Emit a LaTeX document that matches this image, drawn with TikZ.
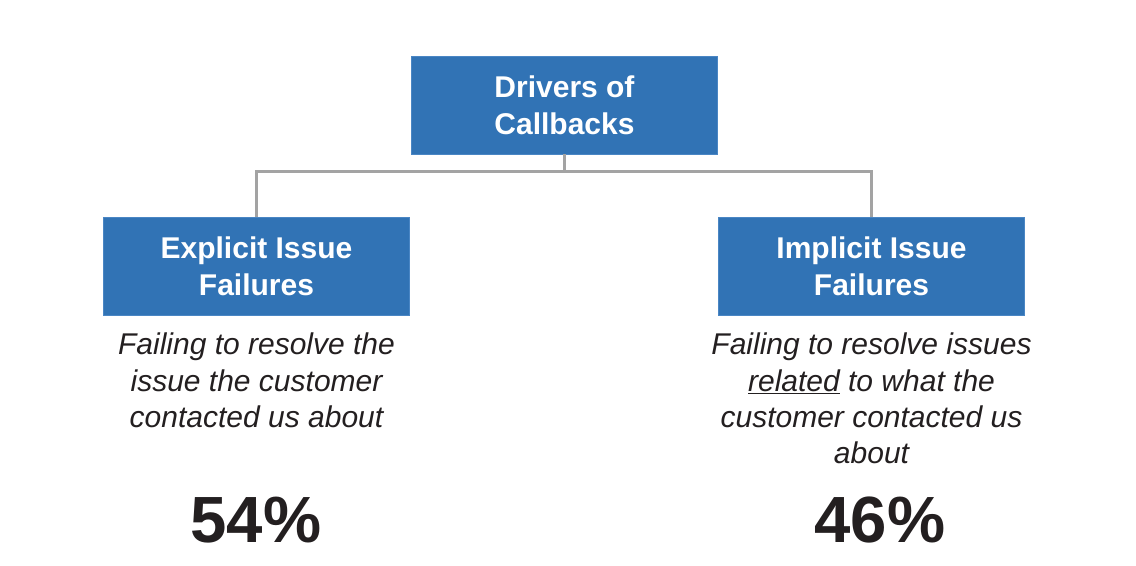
\documentclass[tikz,border=0pt]{standalone}
\usepackage{fontspec}
\setmainfont{Liberation Sans}
\usepackage{xcolor}
\usetikzlibrary{positioning}
\definecolor{boxblue}{HTML}{3173B5}
\definecolor{boxedge}{HTML}{4A86C4}
\definecolor{linkgray}{HTML}{A3A3A3}
\definecolor{inkdark}{HTML}{231F20}
\tikzset{
	x=0.75pt, y=-0.75pt,
	driverbox/.style = {
			rectangle,
			fill            = boxblue,
			draw            = boxedge,
			line width      = 0.6pt,
			minimum width   = 230pt,
			minimum height  = 73.5pt,
			inner sep       = 0pt,
			align           = center,
			text            = white,
			font            = \fontsize{22.5}{27.5}\selectfont\bfseries,
		},
	desc/.style = {
			inner sep = 0pt,
			align     = center,
			text      = inkdark,
			font      = \fontsize{22.5}{27.3}\selectfont\itshape,
		},
	pct/.style = {
			inner sep = 0pt,
			anchor    = base,
			text      = inkdark,
			font      = \fontsize{49}{55}\selectfont\bfseries,
		},
	conn/.style = {draw=linkgray, line width=1.9pt},
}

\begin{document}
\begin{tikzpicture}
		\useasboundingbox (0,0) rectangle (1136,566);

		\node[driverbox] (drivers) at (564.5,105) {Drivers of\\Callbacks};
		\node[driverbox] (explicit) at (256.5,266) {Explicit Issue\\Failures};
		\node[driverbox] (implicit) at (871.5,266) {Implicit Issue\\Failures};

		\foreach \n in {explicit,implicit} {
		\draw[conn] (drivers.south) -- ++(0,17) -| (\n.north);
		}

		\node[desc, below=13pt of explicit] (explicitdesc) {Failing to resolve the\\
			issue the customer\\ contacted us about};
		\node[desc, below=13pt of implicit] (implicitdesc) {Failing to resolve issues\\
			\underline{related} to what the\\ customer contacted us\\ about};

		\node[pct] (explicitpct) at (256,542) {54\%};
		\node[pct] (implicitpct) at (880,542) {46\%};
	\end{tikzpicture}
\end{document}
